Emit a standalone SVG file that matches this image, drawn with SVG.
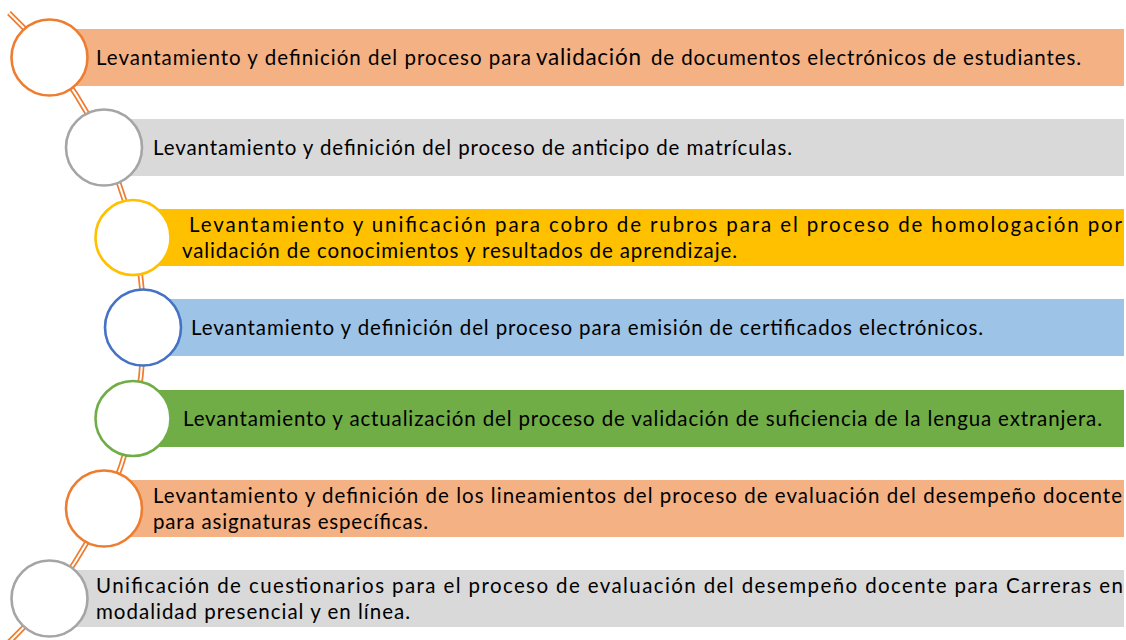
<svg xmlns="http://www.w3.org/2000/svg" width="1126" height="640" viewBox="0 0 1126 640">
  <style>
    .t { font-family: Lato, "Liberation Sans", "DejaVu Sans", sans-serif; font-size: 20.5px; fill: #000; }
    .big { font-size: 22.5px; }
    .c { fill: #fff; stroke-width: 2.6; }
    .orangeBar { fill: #F4B183; }
    .greyBar { fill: #D9D9D9; }
    .yellowBar { fill: #FFC000; }
    .blueBar { fill: #9DC3E6; }
    .greenBar { fill: #70AD47; }
  </style>
  <rect width="1126" height="640" fill="#fff"/>
  <g id="connectors">
    <path d="M 9 13 A 435 435 0 0 1 6 645" fill="none" stroke="#ED7D31" stroke-width="5.5"/>
    <path d="M 9 13 A 435 435 0 0 1 6 645" fill="none" stroke="#fff" stroke-width="2"/>
  </g>
  <g id="node1">
    <rect class="orangeBar" x="49" y="29" width="1075" height="57"/>
    <circle class="c" cx="49.5" cy="57.5" r="38" stroke="#ED7D31"/>
    <text class="t" y="65"><tspan x="96" textLength="435">Levantamiento y definición del proceso para</tspan><tspan class="big" x="536" textLength="105">validación</tspan><tspan x="651" textLength="430">de documentos electrónicos de estudiantes.</tspan></text>
  </g>
  <g id="node2">
    <rect class="greyBar" x="104" y="119" width="1020" height="57"/>
    <circle class="c" cx="104" cy="147.5" r="38" stroke="#A5A5A5"/>
    <text class="t" x="153" y="155" textLength="639">Levantamiento y definición del proceso de anticipo de matrículas.</text>
  </g>
  <g id="node3">
    <rect class="yellowBar" x="133" y="209" width="991" height="57"/>
    <circle class="c" cx="133" cy="237.5" r="37.5" stroke="#FFC000"/>
    <text class="t" x="189" y="232" textLength="933">Levantamiento y unificación para cobro de rubros para el proceso de homologación por</text>
    <text class="t" x="182" y="257.5" textLength="555">validación de conocimientos y resultados de aprendizaje.</text>
  </g>
  <g id="node4">
    <rect class="blueBar" x="143" y="299" width="981" height="57"/>
    <circle class="c" cx="143" cy="327.5" r="38" stroke="#4472C4"/>
    <text class="t" x="191" y="335" textLength="792">Levantamiento y definición del proceso para emisión de certificados electrónicos.</text>
  </g>
  <g id="node5">
    <rect class="greenBar" x="133" y="390" width="991" height="57"/>
    <circle class="c" cx="133" cy="418.5" r="37.5" stroke="#70AD47"/>
    <text class="t" x="183" y="425.5" textLength="919">Levantamiento y actualización del proceso de validación de suficiencia de la lengua extranjera.</text>
  </g>
  <g id="node6">
    <rect class="orangeBar" x="104" y="480" width="1020" height="57"/>
    <circle class="c" cx="104" cy="508.5" r="38" stroke="#ED7D31"/>
    <text class="t" x="153" y="503" textLength="969">Levantamiento y definición de los lineamientos del proceso de evaluación del desempeño docente</text>
    <text class="t" x="153" y="528.5" textLength="275">para asignaturas específicas.</text>
  </g>
  <g id="node7">
    <rect class="greyBar" x="49" y="570" width="1075" height="57"/>
    <circle class="c" cx="49.5" cy="598.5" r="38" stroke="#A5A5A5"/>
    <text class="t" x="96" y="593.3" textLength="1027">Unificación de cuestionarios para el proceso de evaluación del desempeño docente para Carreras en</text>
    <text class="t" x="96" y="618.5" textLength="314">modalidad presencial y en línea.</text>
  </g>
</svg>
